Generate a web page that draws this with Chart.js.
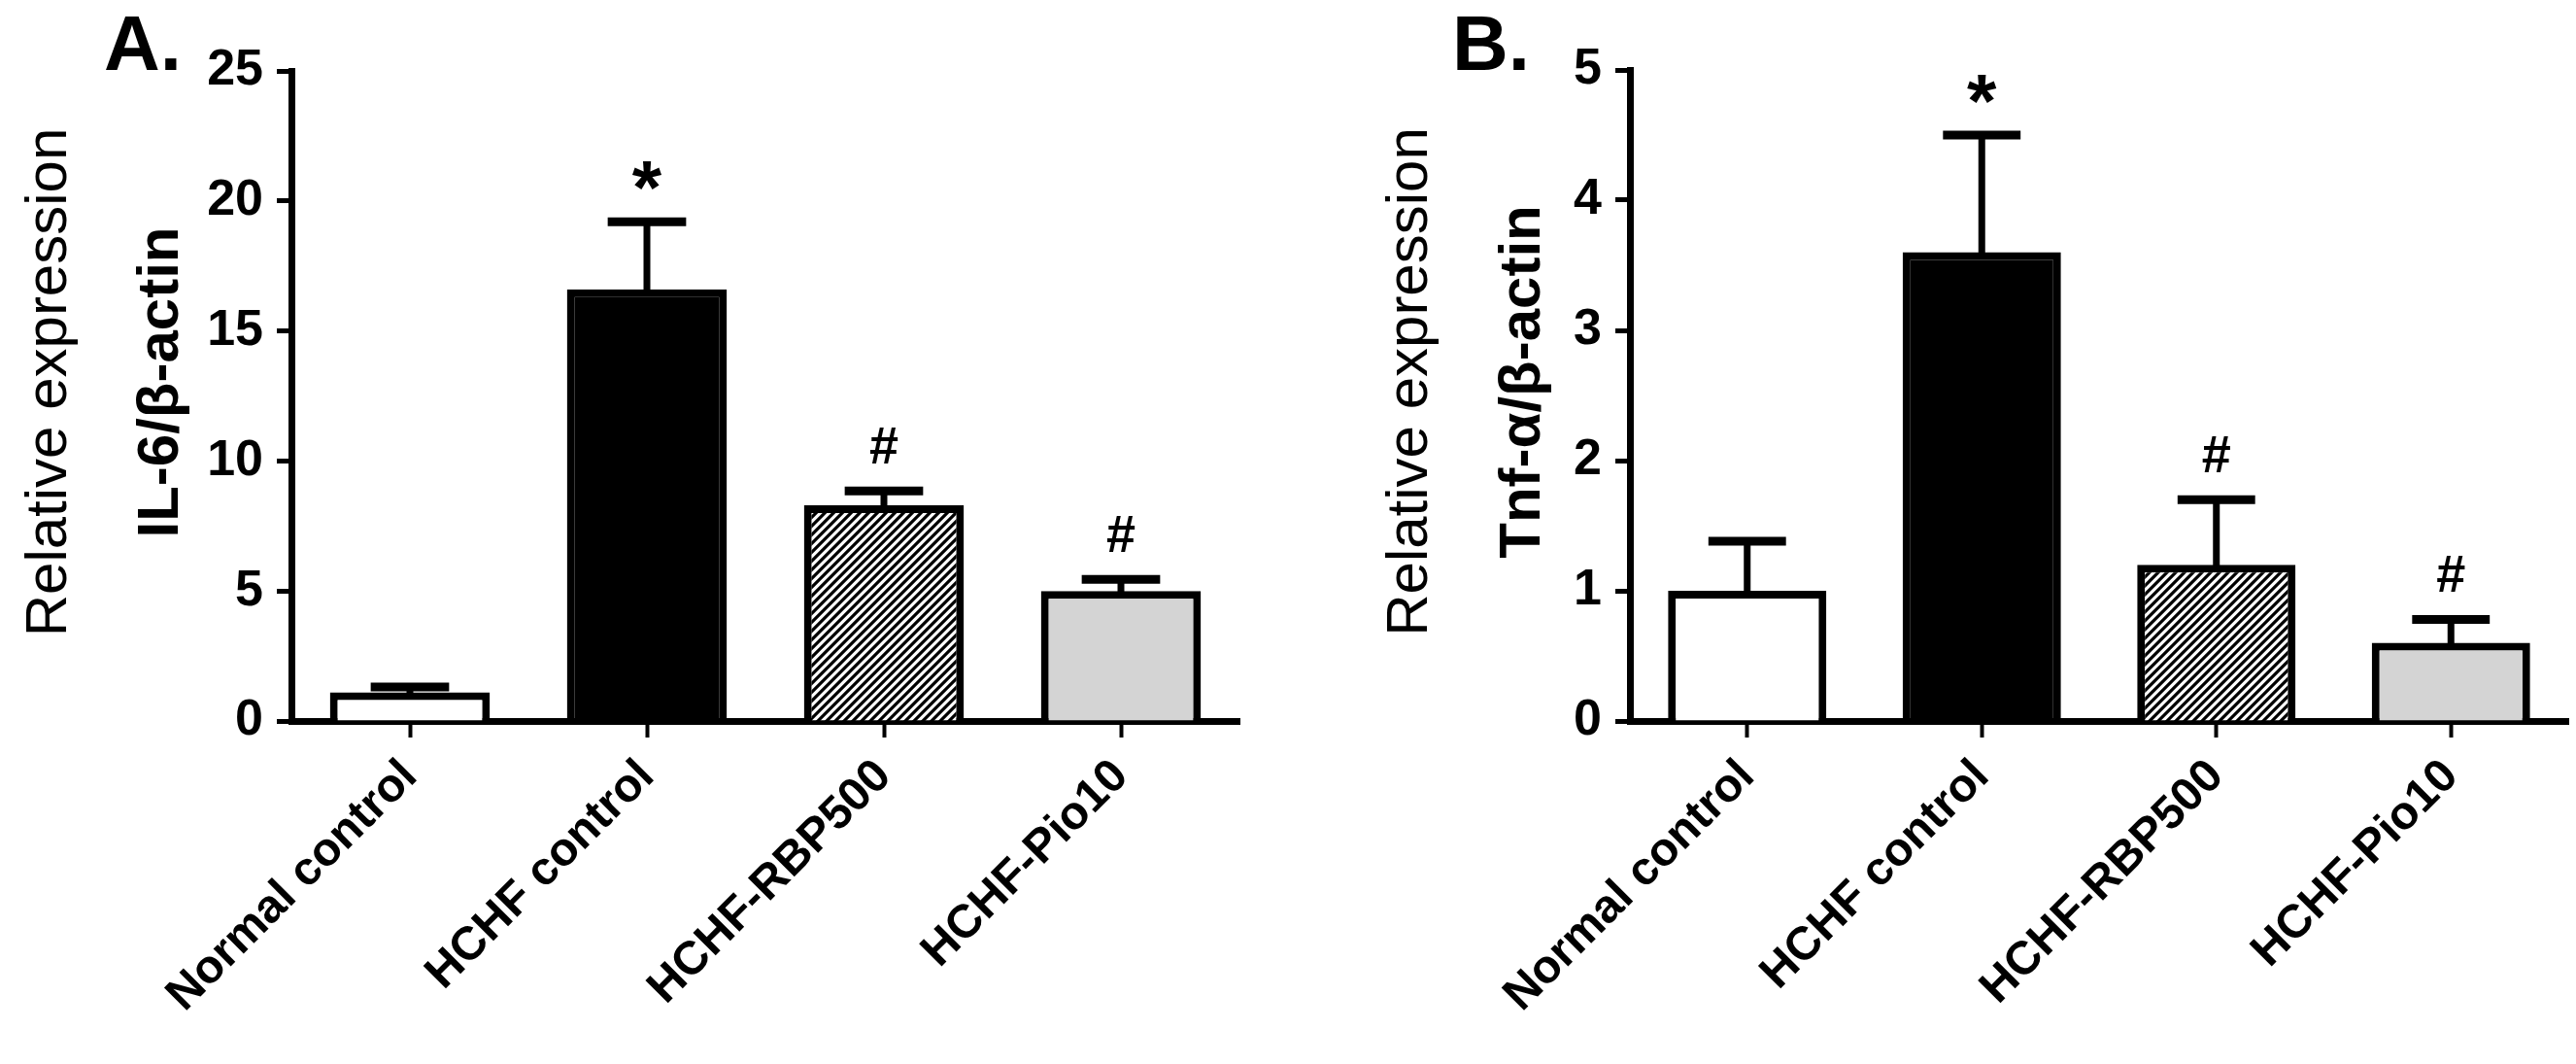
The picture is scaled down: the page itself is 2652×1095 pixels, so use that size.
<!DOCTYPE html>
<html><head><meta charset="utf-8">
<script src="https://cdn.jsdelivr.net/npm/chart.js@4.4.1/dist/chart.umd.min.js"></script>
<style>
html,body{margin:0;padding:0;background:#fff;}
#wrap{position:relative;width:2652px;height:1095px;overflow:hidden;background:#fff;}
canvas{position:absolute;top:0;}
</style></head><body>
<div id="wrap">
<canvas id="cA" width="1326" height="1095" style="left:0;width:1326px;height:1095px"></canvas>
<canvas id="cB" width="1326" height="1095" style="left:1326px;width:1326px;height:1095px"></canvas>
</div>
<script>
// ---- data ----
const categories = ["Normal control", "HCHF control", "HCHF-RBP500", "HCHF-Pio10"];
const il6Values = [1.1, 16.6, 8.3, 5.0];
const il6Errors = [0.21, 2.6, 0.55, 0.45];
const il6Marks  = ["", "*", "#", "#"];
const il6Ticks  = [0, 5, 10, 15, 20, 25];
const tnfValues = [1.0, 3.6, 1.2, 0.6];
const tnfErrors = [0.38, 0.9, 0.5, 0.18];
const tnfMarks  = ["", "*", "#", "#"];
const tnfTicks  = [0, 1, 2, 3, 4, 5];

const FONT = "'Liberation Sans', Arial, sans-serif";

function makeHatch(ctx) {
  const s = 9;
  const c = document.createElement('canvas');
  c.width = s; c.height = s;
  const g = c.getContext('2d');
  g.fillStyle = '#fff'; g.fillRect(0, 0, s, s);
  g.strokeStyle = '#000'; g.lineWidth = 3.2;
  g.beginPath();
  g.moveTo(-1, s + 1); g.lineTo(s + 1, -1);
  g.moveTo(-2, 2); g.lineTo(2, -2);
  g.moveTo(s - 2, s + 2); g.lineTo(s + 2, s - 2);
  g.stroke();
  return ctx.createPattern(c, 'repeat');
}

const errorPlugin = {
  id: 'errs',
  afterDatasetsDraw(chart, args, o) {
    const ctx = chart.ctx;
    const meta = chart.getDatasetMeta(0);
    const y = chart.scales.y;
    const vals = chart.data.datasets[0].data;
    ctx.save();
    ctx.strokeStyle = '#000';
    ctx.fillStyle = '#000';
    meta.data.forEach((bar, i) => {
      const top = y.getPixelForValue(vals[i]);
      const capY = y.getPixelForValue(vals[i] + o.errors[i]);
      const half = bar.width * 0.245;
      ctx.lineWidth = 7;
      ctx.beginPath(); ctx.moveTo(bar.x, top + 2); ctx.lineTo(bar.x, capY); ctx.stroke();
      ctx.lineWidth = 9;
      ctx.beginPath(); ctx.moveTo(bar.x - half, capY); ctx.lineTo(bar.x + half, capY); ctx.stroke();
      const t = o.marks[i];
      if (t) {
        ctx.font = 'bold ' + (t === '*' ? 78 : 54) + 'px ' + FONT;
        ctx.textAlign = 'center';
        ctx.textBaseline = 'alphabetic';
        const m = ctx.measureText(t);
        const cy = capY - 47;
        ctx.fillText(t, bar.x, cy + (m.actualBoundingBoxAscent - m.actualBoundingBoxDescent) / 2);
      }
    });
    ctx.restore();
  }
};

const titlePlugin = {
  id: 'ytitles',
  afterDraw(chart, args, o) {
    const ctx = chart.ctx;
    const ca = chart.chartArea;
    const cy = (ca.top + ca.bottom) / 2 - 14;
    ctx.save();
    ctx.fillStyle = '#000';
    ctx.textAlign = 'center';
    ctx.textBaseline = 'middle';
    o.lines.forEach(l => {
      ctx.save();
      ctx.translate(ca.left - l.offset, cy);
      ctx.rotate(-Math.PI / 2);
      ctx.font = l.font;
      ctx.fillText(l.text, 0, 0);
      ctx.restore();
    });
    ctx.font = 'bold 80px ' + FONT;
    ctx.textAlign = 'left';
    ctx.textBaseline = 'alphabetic';
    ctx.fillText(o.panel, o.panelX, o.panelY);
    ctx.restore();
  }
};

function build(id, values, errors, marks, ticks, yWidth, padRight, padTop, panel, panelX, lines) {
  const canvas = document.getElementById(id);
  const ctx = canvas.getContext('2d');
  const hatch = makeHatch(ctx);
  return new Chart(ctx, {
    type: 'bar',
    data: {
      labels: categories,
      datasets: [{
        data: values,
        backgroundColor: ['#ffffff', '#000000', hatch, '#d4d4d4'],
        borderColor: '#000',
        borderWidth: 8,
        categoryPercentage: 1,
        barPercentage: 0.675
      }]
    },
    options: {
      responsive: false,
      animation: false,
      devicePixelRatio: 1,
      layout: { padding: { left: 0, right: padRight, top: padTop, bottom: 0 } },
      plugins: {
        legend: { display: false },
        tooltip: { enabled: false },
        errs: { errors: errors, marks: marks },
        ytitles: { lines: lines, panel: panel, panelX: panelX, panelY: 72 }
      },
      scales: {
        x: {
          type: 'category',
          offset: true,
          grid: { display: true, drawOnChartArea: false, drawTicks: true, tickLength: 17, tickWidth: 4, tickColor: '#000', offset: false, color: '#000' },
          border: { display: true, color: '#000', width: 7 },
          ticks: { autoSkip: false, maxRotation: 45, minRotation: 45, padding: 12, color: '#000',
                   font: { family: FONT, weight: 'bold', size: 48 } },
          afterFit: s => { s.height = 353; }
        },
        y: {
          min: ticks[0],
          max: ticks[ticks.length - 1],
          afterBuildTicks: s => { s.ticks = ticks.map(v => ({ value: v })); },
          grid: { drawOnChartArea: false, drawTicks: true, tickLength: 15, tickWidth: 5, tickColor: '#000', color: '#000' },
          border: { display: true, color: '#000', width: 7 },
          ticks: { padding: 14, color: '#000', font: { family: FONT, weight: 'bold', size: 52 } },
          afterFit: s => { s.width = yWidth; }
        }
      }
    },
    plugins: [errorPlugin, titlePlugin]
  });
}

build('cA', il6Values, il6Errors, il6Marks, il6Ticks, 300, 50, 73, 'A.', 107, [
  { text: 'Relative expression', font: '60px ' + FONT, offset: 249 },
  { text: 'IL-6/β-actin', font: 'bold 60px ' + FONT, offset: 134 }
]);
build('cB', tnfValues, tnfErrors, tnfMarks, tnfTicks, 352, 8, 72, 'B.', 169, [
  { text: 'Relative expression', font: '60px ' + FONT, offset: 226 },
  { text: 'Tnf-α/β-actin', font: 'bold 60px ' + FONT, offset: 110 }
]);
</script>
</body></html>
